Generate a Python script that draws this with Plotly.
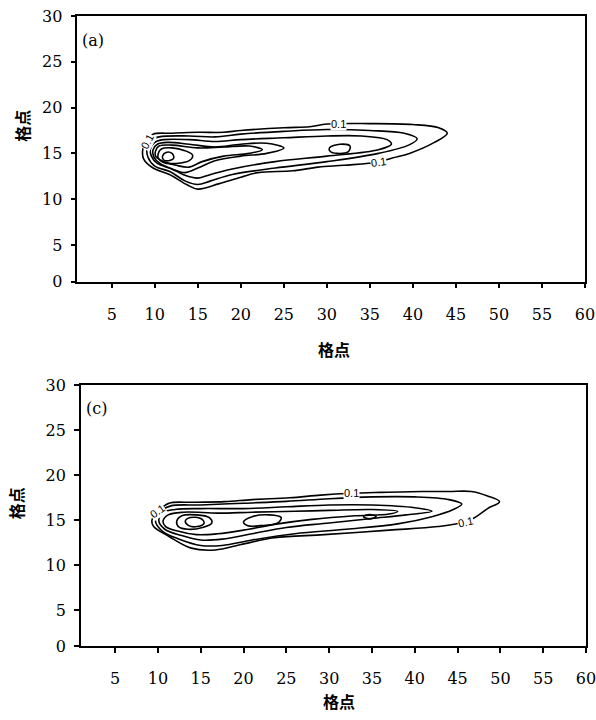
import plotly.graph_objects as go

# ---------------- data (grid-point coordinates) ----------------
X_TICKS = [5, 10, 15, 20, 25, 30, 35, 40, 45, 50, 55, 60]
Y_TICKS = [1, 5, 10, 15, 20, 25, 30]
Y_TICK_TEXT = ["0", "5", "10", "15", "20", "25", "30"]
AXIS_TITLE = "格点"
PANEL_LABELS = ["(a)", "(c)"]
LEVEL_LABEL = "0.1"

# Panel (a) contour lines (outermost = 0.1)
A1_X = [8.6, 9.0, 9.8, 12, 15, 18, 20, 25, 28, 30, 35, 40, 43, 44, 42.5, 39.6, 37.6, 36, 32, 29, 26, 22, 20, 17.5, 15, 13.7, 11.7, 9.8, 8.7]
A1_Y = [15.4, 16.4, 17.1, 17.2, 17.3, 17.3, 17.5, 17.8, 17.9, 18.2, 18.25, 18.15, 17.8, 17.2, 16.2, 15.0, 14.5, 14.05, 13.7, 13.5, 13.1, 12.9, 12.4, 11.7, 11.1, 11.6, 12.7, 13.4, 14.4]
A2_X = [9.1, 9.5, 10.5, 14, 17, 20, 25, 30, 35, 39, 40.5, 39.5, 36, 30, 24, 19, 16.5, 15, 13.5, 11.8, 10, 9.2]
A2_Y = [15.6, 16.4, 16.8, 16.9, 16.8, 17.1, 17.4, 17.6, 17.5, 17.2, 16.6, 15.9, 15.0, 14.1, 13.4, 12.7, 12.0, 11.6, 12.0, 13.0, 13.6, 14.6]
A3_X = [9.5, 10, 11, 14, 17, 20, 25, 30, 34, 37, 37.5, 36, 30, 24, 19, 16.5, 15, 13.5, 12, 10.3, 9.6]
A3_Y = [15.5, 16.2, 16.5, 16.5, 16.3, 16.5, 16.7, 16.9, 16.9, 16.5, 16.0, 15.4, 14.7, 14.1, 13.3, 12.7, 12.3, 12.6, 13.3, 13.9, 14.7]
A4_X = [9.8, 10.3, 11.5, 14, 17, 20, 23, 25, 23, 20, 17, 15, 13.5, 12, 10.6, 9.9]
A4_Y = [15.4, 16.0, 16.2, 16.0, 15.7, 16.0, 16.1, 15.6, 15.0, 14.7, 14.2, 13.4, 12.9, 13.3, 13.9, 14.6]
A5_X = [10.1, 10.5, 12, 15, 18, 21, 22.5, 21, 18, 15.5, 14, 12.5, 10.8, 10.1]
A5_Y = [15.3, 15.8, 15.9, 15.6, 15.7, 15.8, 15.4, 15.0, 14.7, 14.1, 13.5, 13.7, 14.2, 14.7]
A6_X = [10.4, 10.8, 12, 13.5, 14.4, 14, 12.5, 11, 10.4]
A6_Y = [15.0, 15.5, 15.6, 15.3, 14.8, 14.2, 13.9, 14.0, 14.5]
A7_X = [10.9, 11.3, 12, 12.2, 11.6, 11.0]
A7_Y = [14.7, 15.1, 15.0, 14.5, 14.2, 14.3]
A8_X = [30.3, 31.5, 32.7, 32.5, 31.2, 30.4]
A8_Y = [15.6, 16.0, 15.8, 15.2, 15.0, 15.2]

# Panel (c) contour lines (outermost = 0.1)
C1_X = [9.3, 10.1, 11.3, 14, 17.8, 21, 25.4, 29, 32.6, 36, 40.9, 44, 46.6, 48.5, 49.9, 48.5, 47, 45.9, 42.7, 37, 29.4, 23.6, 19.7, 16.7, 13.9, 11.3, 9.5]
C1_Y = [15.0, 16.1, 16.9, 17.0, 17.07, 17.3, 17.5, 17.8, 18.0, 18.1, 18.2, 18.2, 18.2, 17.7, 17.07, 16.3, 15.3, 14.8, 14.3, 13.9, 13.4, 13.05, 12.3, 11.7, 11.9, 13.2, 14.3]
C2_X = [9.7, 10.3, 11.5, 15, 20, 25, 30, 35, 40, 44, 45.5, 44.5, 42, 38, 32, 26, 21, 17.5, 15, 12.5, 10.5]
C2_Y = [15.0, 16.0, 16.6, 16.7, 16.9, 17.1, 17.4, 17.6, 17.6, 17.3, 16.8, 16.2, 15.4, 14.6, 14.0, 13.5, 12.8, 12.2, 12.2, 12.9, 13.8]
C3_X = [10.1, 10.7, 12, 15, 20, 25, 30, 35, 40, 42, 39, 35, 30, 25, 21, 17.5, 15, 12.8, 10.8]
C3_Y = [15.0, 15.9, 16.2, 16.3, 16.3, 16.5, 16.7, 16.7, 16.4, 16.0, 15.6, 15.2, 14.7, 14.2, 13.5, 12.9, 12.8, 13.3, 14.0]
C4_X = [10.6, 11.2, 13, 17, 21, 26, 30, 35, 38, 37, 33, 28, 24, 20, 17, 14.5, 12.3, 10.9]
C4_Y = [14.9, 15.6, 15.9, 15.8, 15.9, 16.0, 16.1, 16.2, 16.0, 15.7, 15.5, 15.1, 14.6, 13.9, 13.5, 13.4, 13.8, 14.3]
C5_X = [12.2, 12.8, 14.5, 16, 16.3, 15.2, 13.5, 12.4]
C5_Y = [14.9, 15.5, 15.6, 15.3, 14.7, 14.2, 14.0, 14.3]
C6_X = [13.2, 13.8, 15, 15.4, 14.6, 13.6]
C6_Y = [14.9, 15.3, 15.2, 14.7, 14.3, 14.4]
C7_X = [20.0, 21, 23, 24.4, 24, 22, 20.5]
C7_Y = [14.8, 15.4, 15.6, 15.3, 14.7, 14.4, 14.4]
C8_X = [34.0, 34.7, 35.5, 34.7]
C8_Y = [15.4, 15.65, 15.4, 15.15]

# label anchor positions (data units) and rotations
A_LABELS = [(31.4, 18.2, 0), (36.0, 14.05, -8), (9.2, 16.3, -62)]
C_LABELS = [(32.6, 18.0, 0), (45.9, 14.8, -12), (10.0, 16.0, -35)]

PANEL_A = [(A1_X, A1_Y), (A2_X, A2_Y), (A3_X, A3_Y), (A4_X, A4_Y), (A5_X, A5_Y),
           (A6_X, A6_Y), (A7_X, A7_Y), (A8_X, A8_Y)]
PANEL_C = [(C1_X, C1_Y), (C2_X, C2_Y), (C3_X, C3_Y), (C4_X, C4_Y), (C5_X, C5_Y),
           (C6_X, C6_Y), (C7_X, C7_Y), (C8_X, C8_Y)]

# ---------------- figure ----------------
W, H = 596, 720
fig = go.Figure()

def add_panel(curves, xa, ya):
    for xs, ys in curves:
        fig.add_trace(go.Scatter(
            x=list(xs) + [xs[0]], y=list(ys) + [ys[0]],
            mode="lines", line=dict(color="black", width=1.6, shape="spline", smoothing=1.0),
            xaxis=xa, yaxis=ya, showlegend=False, hoverinfo="skip"))

add_panel(PANEL_A, "x", "y")
add_panel(PANEL_C, "x2", "y2")

tick_font = dict(family="DejaVu Serif", size=16, color="black")
common_x = dict(range=[1, 60], tickvals=X_TICKS, showgrid=False, zeroline=False,
                showline=True, linecolor="black", linewidth=1.6, mirror=True,
                ticks="outside", ticklen=5, tickwidth=1.5, tickcolor="black",
                tickfont=tick_font, ticklabelstandoff=12, ticklabeloverflow="allow")
common_y = dict(range=[1, 30], tickvals=Y_TICKS, ticktext=Y_TICK_TEXT, showgrid=False, zeroline=False,
                showline=True, linecolor="black", linewidth=1.6, mirror=True,
                ticks="outside", ticklen=5, tickwidth=1.5, tickcolor="black",
                tickfont=tick_font, ticklabelstandoff=5)

# target picture pixels -> page pixels (the photographed page is offset/scaled slightly)
def px_x(p):
    return min(1.0, max(0.0, (p / 0.985) / W))

def px_y(p):
    return min(1.0, max(0.0, 1 - ((p - 8) / 0.975) / H))

fig.update_layout(
    width=W, height=H, autosize=False,
    margin=dict(l=0, r=0, t=0, b=0),
    paper_bgcolor="white", plot_bgcolor="white",
    xaxis=dict(domain=[px_x(77.5), px_x(586)], anchor="y", **common_x),
    yaxis=dict(domain=[px_y(281), px_y(15)], anchor="x", **common_y),
    xaxis2=dict(domain=[px_x(81), px_x(593)], anchor="y2", **common_x),
    yaxis2=dict(domain=[px_y(646), px_y(385)], anchor="x2", **common_y),
)

ann = []
title_font = dict(family="Noto Sans CJK SC", size=16, color="black")
# axis titles
ann.append(dict(text="<b>" + AXIS_TITLE + "</b>", x=px_x(335), y=px_y(348), xref="paper", yref="paper",
                showarrow=False, font=title_font, xanchor="center", yanchor="middle"))
ann.append(dict(text="<b>" + AXIS_TITLE + "</b>", x=px_x(22), y=px_y(125), xref="paper", yref="paper",
                showarrow=False, font=title_font, textangle=-90, xanchor="center", yanchor="middle"))
ann.append(dict(text="<b>" + AXIS_TITLE + "</b>", x=px_x(340), y=px_y(701), xref="paper", yref="paper",
                showarrow=False, font=title_font, xanchor="center", yanchor="middle"))
ann.append(dict(text="<b>" + AXIS_TITLE + "</b>", x=px_x(16), y=px_y(503), xref="paper", yref="paper",
                showarrow=False, font=title_font, textangle=-90, xanchor="center", yanchor="middle"))
# panel labels
panel_font = dict(family="DejaVu Serif", size=16, color="black")
ann.append(dict(text=PANEL_LABELS[0], x=px_x(80), y=px_y(40), xref="paper", yref="paper",
                showarrow=False, font=panel_font, xanchor="left", yanchor="middle"))
ann.append(dict(text=PANEL_LABELS[1], x=px_x(84), y=px_y(408), xref="paper", yref="paper",
                showarrow=False, font=panel_font, xanchor="left", yanchor="middle"))
# contour level labels
lab_font = dict(family="Liberation Sans", size=11, color="black")
for (lx, ly, rot) in A_LABELS:
    ann.append(dict(text=LEVEL_LABEL, x=lx, y=ly, xref="x", yref="y", showarrow=False,
                    font=lab_font, bgcolor="white", textangle=rot, borderpad=0))
for (lx, ly, rot) in C_LABELS:
    ann.append(dict(text=LEVEL_LABEL, x=lx, y=ly, xref="x2", yref="y2", showarrow=False,
                    font=lab_font, bgcolor="white", textangle=rot, borderpad=0))
fig.update_layout(annotations=ann)

fig.write_html("out.html")
